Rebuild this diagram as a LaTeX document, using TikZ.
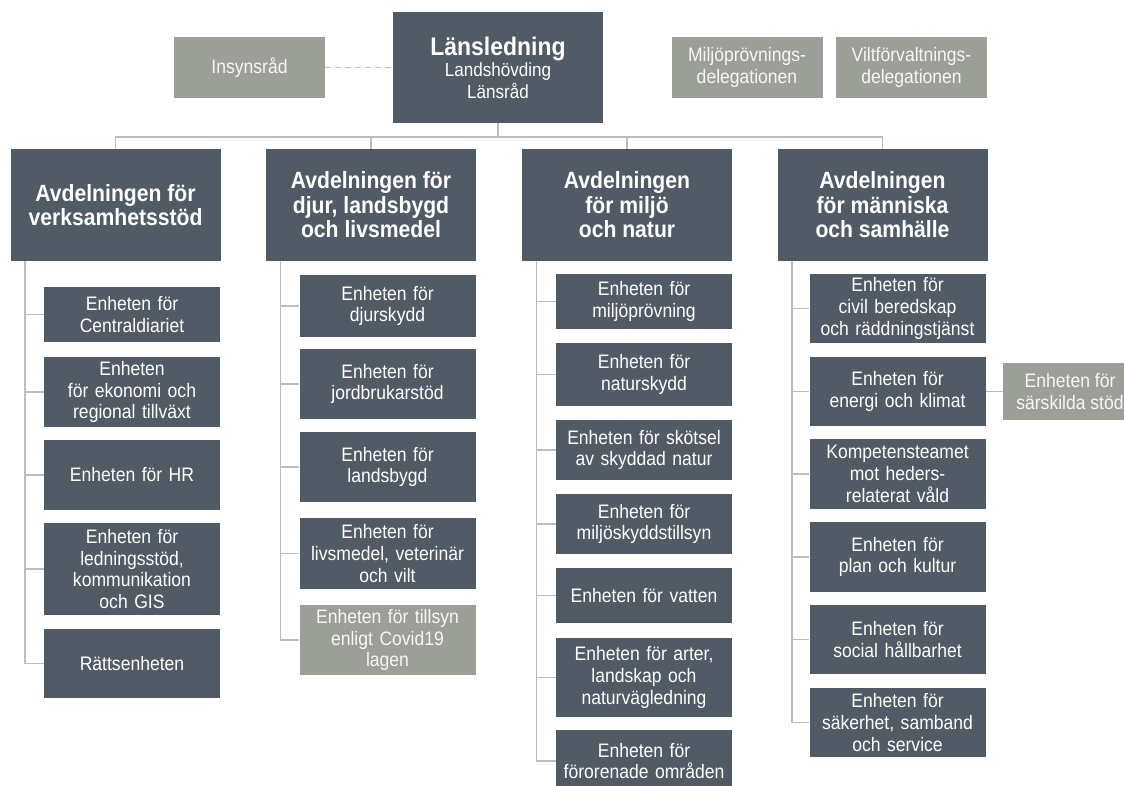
\documentclass[tikz,border=0pt]{standalone}
\usepackage{fontspec}
\setmainfont{Liberation Sans}[FakeStretch=0.9]
\usepackage[table]{xcolor}
\definecolor{boxdark}{HTML}{505B66}
\definecolor{boxgray}{HTML}{9B9F97}
\definecolor{linegray}{HTML}{BDBDBD}
\tikzset{
 box/.style={fill=boxdark, text=white, inner sep=0pt, align=center, font=\fontsize{19.5}{21.7}\selectfont},
 side/.style={box, fill=boxgray, text=white!92!boxgray, minimum width=151pt, minimum height=61pt},
 avd/.style={box, minimum width=210pt, minimum height=112pt, font=\bfseries\fontsize{23.5}{24.5}\selectfont},
 unit/.style={box, minimum width=176pt, text width=176pt},
 conn/.style={draw=linegray, line width=1.5pt}
}

\begin{document}
\begin{tikzpicture}[x=1pt, y=-1pt]
 \useasboundingbox (0,0) rectangle (1124,785);
 \clip (0,0) rectangle (1124,785);

 \node[box, minimum width=210pt, minimum height=111pt, font=\fontsize{19}{21.5}\selectfont] (lans) at (498,67.5) {{\bfseries\fontsize{25.5}{22}\selectfont Länsledning}\\Landshövding\\Länsråd};
 \node[side] (insyn) at (249.5,67.5) {Insynsråd};
 \node[side] (miljod) at (747,67.5) {Miljöprövnings-\\delegationen};
 \node[side] (viltd) at (911.5,67.5) {Viltförvaltnings-\\delegationen};

 \node[avd] (d1) at (115.5,205) {Avdelningen för\\verksamhetsstöd};
 \node[avd] (d2) at (371,205) {Avdelningen för\\djur, landsbygd\\och livsmedel};
 \node[avd] (d3) at (627,205) {Avdelningen\\för miljö\\och natur};
 \node[avd] (d4) at (882.5,205) {Avdelningen\\för människa\\och samhälle};

 \node[unit, minimum height=55pt] (cent) at (132,314.5) {Enheten för\\Centraldiariet};
 \node[unit, minimum height=70pt] (ekon) at (132,392) {Enheten\\för ekonomi och\\regional tillväxt};
 \node[unit, minimum height=70pt] (hr) at (132,475) {Enheten för HR};
 \node[unit, minimum height=92pt] (ledn) at (132,569) {Enheten för\\ledningsstöd,\\kommunikation\\och GIS};
 \node[unit, minimum height=69pt] (ratt) at (132,663.5) {Rättsenheten};

 \node[unit, minimum height=62pt] (djur) at (387.5,306) {Enheten för\\djurskydd};
 \node[unit, minimum height=70pt] (jord) at (387.5,384) {Enheten för\\jordbrukarstöd};
 \node[unit, minimum height=70pt] (land) at (387.5,467) {Enheten för\\landsbygd};
 \node[unit, minimum height=71pt] (livs) at (387.5,553.5) {Enheten för\\livsmedel, veterinär\\och vilt};
 \node[unit, minimum height=70pt, fill=boxgray, text=white!92!boxgray] (covid) at (387.5,640) {Enheten för tillsyn\\enligt Covid19\\lagen};

 \node[unit, minimum height=55pt] (mprov) at (644,301.5) {Enheten för\\miljöprövning};
 \node[unit, minimum height=63pt] (natsk) at (644,374.5) {Enheten för\\naturskydd};
 \node[unit, minimum height=60pt] (skot) at (644,450) {Enheten för skötsel\\av skyddad natur};
 \node[unit, minimum height=60pt] (mskt) at (644,524) {Enheten för\\miljöskyddstillsyn};
 \node[unit, minimum height=55pt] (vatt) at (644,595.5) {Enheten för vatten};
 \node[unit, minimum height=79pt] (arter) at (644,677.5) {Enheten för arter,\\landskap och\\naturvägledning};
 \node[unit, minimum height=62pt] (foror) at (644,761) {Enheten för\\förorenade områden};

 \node[unit, minimum height=69pt] (civil) at (897.5,308.5) {Enheten för\\civil beredskap\\och räddningstjänst};
 \node[unit, minimum height=69pt] (energi) at (897.5,391.5) {Enheten för\\energi och klimat};
 \node[unit, minimum height=70pt] (komp) at (897.5,474) {Kompetensteamet\\mot heders-\\relaterat våld};
 \node[unit, minimum height=70pt] (plan) at (897.5,557) {Enheten för\\plan och kultur};
 \node[unit, minimum height=69pt] (social) at (897.5,639.5) {Enheten för\\social hållbarhet};
 \node[unit, minimum height=69pt] (saker) at (897.5,722.5) {Enheten för\\säkerhet, samband\\och service};
 \node[side, minimum width=134pt, minimum height=57pt] (sarsk) at (1070,391.5) {Enheten för\\särskilda stöd};

 \coordinate (l1) at ([xshift=14.5pt]d1.south west);
 \coordinate (l2) at ([xshift=14.5pt]d2.south west);
 \coordinate (l3) at ([xshift=14.5pt]d3.south west);
 \coordinate (l4) at ([xshift=14.5pt]d4.south west);

 \draw[conn, dash pattern=on 6pt off 4pt] (insyn.east) -- (lans.west);
 \draw[conn] (lans.south) -- ++(0,14) -| (d1.north);
 \draw[conn] (lans.south) -- ++(0,14) -| (d2.north);
 \draw[conn] (lans.south) -- ++(0,14) -| (d3.north);
 \draw[conn] (lans.south) -- ++(0,14) -| (d4.north);

 \draw[conn] (l1) |- (cent.west);
 \draw[conn] (l1) |- (ekon.west);
 \draw[conn] (l1) |- (hr.west);
 \draw[conn] (l1) |- (ledn.west);
 \draw[conn] (l1) |- (ratt.west);

 \draw[conn] (l2) |- (djur.west);
 \draw[conn] (l2) |- (jord.west);
 \draw[conn] (l2) |- (land.west);
 \draw[conn] (l2) |- (livs.west);
 \draw[conn] (l2) |- (covid.west);

 \draw[conn] (l3) |- (mprov.west);
 \draw[conn] (l3) |- (natsk.west);
 \draw[conn] (l3) |- (skot.west);
 \draw[conn] (l3) |- (mskt.west);
 \draw[conn] (l3) |- (vatt.west);
 \draw[conn] (l3) |- (arter.west);
 \draw[conn] (l3) |- (foror.west);

 \draw[conn] (l4) |- (civil.west);
 \draw[conn] (l4) |- (energi.west);
 \draw[conn] (l4) |- (komp.west);
 \draw[conn] (l4) |- (plan.west);
 \draw[conn] (l4) |- (social.west);
 \draw[conn] (l4) |- (saker.west);
 \draw[conn] (energi.east) -- (sarsk.west);
\end{tikzpicture}
\end{document}
